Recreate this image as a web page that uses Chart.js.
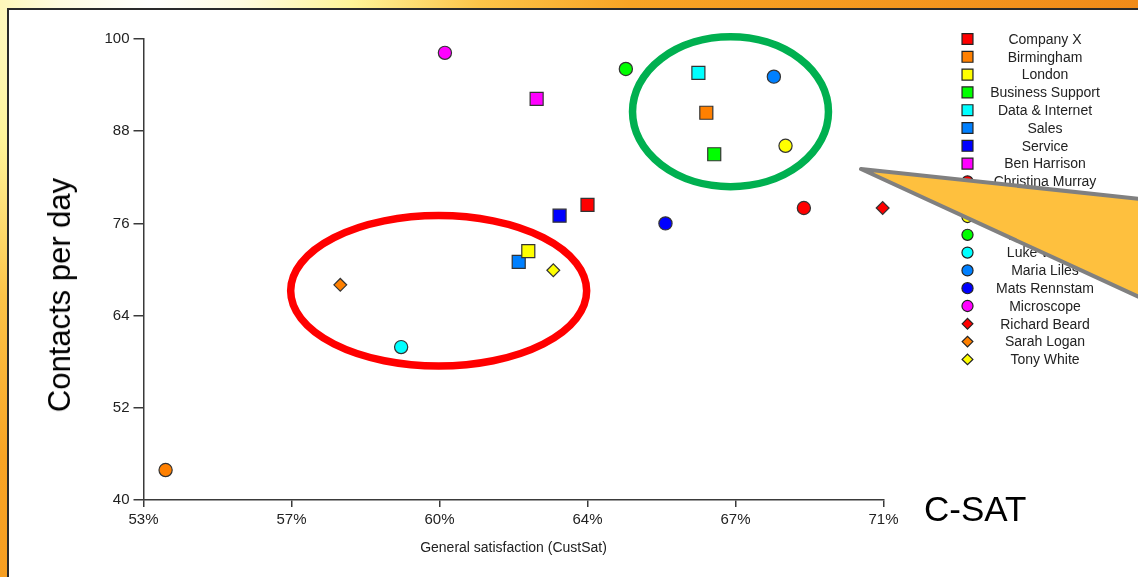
<!DOCTYPE html>
<html>
<head>
<meta charset="utf-8">
<script src="https://cdn.jsdelivr.net/npm/chart.js@4.4.1/dist/chart.umd.min.js"></script>
<style>
  html, body { margin: 0; padding: 0; }
  body {
    width: 1138px; height: 577px; overflow: hidden; position: relative;
    background: radial-gradient(circle at 150px 0px, #ffffff 0px, #fffbe0 90px, #fff59a 200px, #fcc448 330px, #f8a424 480px, #f08a18 1000px);
    font-family: "Liberation Sans", Arial, sans-serif;
  }
  #panel {
    position: absolute; left: 7px; top: 8px; width: 1160px; height: 600px;
    background: #fff; border-left: 2px solid #2a2a2a; border-top: 2px solid #2a2a2a;
  }
  #chart { position: absolute; left: 0; top: 0; }
  .big { position: absolute; color: #000; white-space: nowrap; }
  #ytitle { left: 60px; top: 295px; font-size: 31px; transform: translate(-50%, -50%) rotate(-90deg); }
  #csat { left: 924px; top: 489px; font-size: 35px; }
  #callout { position: absolute; left: 0; top: 0; }
</style>
</head>
<body>
<div id="panel"></div>
<canvas id="chart" width="1138" height="577"></canvas>
<div class="big" id="ytitle">Contacts per day</div>
<div class="big" id="csat">C-SAT</div>
<svg id="callout" width="1138" height="577">
  <polygon points="861,169 1150,200 1150,302" fill="#fec03e" stroke="#808080" stroke-width="4" stroke-linejoin="round"/>
</svg>
<script>
// one entry per legend row
const names = ["Company X", "Birmingham", "London", "Business Support", "Data & Internet", "Sales", "Service",
  "Ben Harrison", "Christina Murray", "David Evans", "Gary Hill", "Jenny Cook", "Luke Wilson", "Maria Liles",
  "Mats Rennstam", "Microscope", "Richard Beard", "Sarah Logan", "Tony White"];
// general satisfaction, %
const custSat = [63.65, 66.5, 62.23, 66.69, 66.31, 62.0, 62.98, 62.43, 68.84, 53.53, 68.4, 64.57,
  59.18, 68.12, 65.52, 60.23, 70.73, 57.72, 62.83];
// contacts per day
const contacts = [78.4, 90.4, 72.4, 85.0, 95.6, 71.0, 77.0, 92.2, 78.0, 43.9, 86.1, 96.1,
  59.9, 95.1, 76.0, 98.2, 78.0, 68.0, 69.9];
const colors = ["#ff0000", "#ff8000", "#ffff00", "#00ff00", "#00ffff", "#0080ff", "#0000ff",
  "#ff00ff", "#ff0000", "#ff8000", "#ffff00", "#00ff00", "#00ffff", "#0080ff",
  "#0000ff", "#ff00ff", "#ff0000", "#ff8000", "#ffff00"];
const shapes = ["rect", "rect", "rect", "rect", "rect", "rect", "rect", "rect",
  "circle", "circle", "circle", "circle", "circle", "circle", "circle", "circle",
  "rectRot", "rectRot", "rectRot"];
const xTicks = [53, 56.55, 60.1, 63.65, 67.2, 70.75];
const yTicks = [40, 52, 64, 76, 88, 100];

// highlight rings, in data units: [cx, cy, rx, ry, colour]
const rings = [
  [60.08, 67.23, 3.55, 9.79, "#ff0000"],
  [67.08, 90.54, 2.35, 9.76, "#00b050"]
];

const sizeOf = { rect: 9.2, circle: 6.6, rectRot: 6.4 };
const font = "'Liberation Sans', Arial, sans-serif";

const datasets = names.map((n, i) => ({
  label: n,
  data: [{ x: custSat[i], y: contacts[i] }],
  pointStyle: shapes[i],
  pointRadius: sizeOf[shapes[i]],
  backgroundColor: colors[i],
  borderColor: "#333",
  borderWidth: 1.2,
  clip: false
}));

const ringPlugin = {
  id: "rings",
  afterDatasetsDraw(chart) {
    const { ctx, scales: { x, y } } = chart;
    ctx.save();
    ctx.lineWidth = 7.5;
    rings.forEach(r => {
      const cx = x.getPixelForValue(r[0]), cy = y.getPixelForValue(r[1]);
      const rx = x.getPixelForValue(r[0] + r[2]) - cx;
      const ry = cy - y.getPixelForValue(r[1] + r[3]);
      ctx.strokeStyle = r[4];
      ctx.beginPath();
      ctx.ellipse(cx, cy, rx, ry, 0, 0, Math.PI * 2);
      ctx.stroke();
    });
    ctx.restore();
  }
};

// legend with centred names, like the original
const sideLegend = {
  id: "sideLegend",
  afterDraw(chart) {
    const ctx = chart.ctx;
    ctx.save();
    ctx.font = "14px " + font;
    ctx.textAlign = "center";
    ctx.textBaseline = "middle";
    chart.data.datasets.forEach((ds, i) => {
      const y = 39 + i * 17.8;
      ctx.fillStyle = ds.backgroundColor;
      ctx.strokeStyle = "#222";
      ctx.lineWidth = 1.2;
      Chart.helpers.drawPoint(ctx, { pointStyle: ds.pointStyle, rotation: 0, radius: ds.pointRadius * 0.84, borderWidth: 1.2 }, 967.5, y);
      ctx.fillStyle = "#222";
      ctx.fillText(ds.label, 1045, y + 1);
    });
    ctx.restore();
  }
};

new Chart(document.getElementById("chart"), {
  type: "scatter",
  data: { datasets },
  plugins: [ringPlugin, sideLegend],
  options: {
    responsive: false,
    animation: false,
    devicePixelRatio: 1,
    layout: { padding: { left: 0, top: 39, right: 254.5, bottom: 20.6 } },
    plugins: { legend: { display: false }, tooltip: { enabled: false } },
    scales: {
      x: {
        type: "linear",
        min: xTicks[0],
        max: xTicks[xTicks.length - 1],
        afterBuildTicks: s => { s.ticks = xTicks.map(v => ({ value: v })); },
        afterFit: s => { s.height = 56.4; },
        grid: { drawOnChartArea: false, drawTicks: true, tickLength: 7, color: "#3a3a3a", lineWidth: 1.5 },
        border: { color: "#3a3a3a", width: 1.5 },
        ticks: { padding: 4, color: "#222", font: { family: font, size: 15 }, callback: v => Math.round(v) + "%" },
        title: { display: true, text: "General satisfaction (CustSat)", color: "#222", padding: 0, font: { family: font, size: 14 } }
      },
      y: {
        type: "linear",
        min: yTicks[0],
        max: yTicks[yTicks.length - 1],
        afterBuildTicks: s => { s.ticks = yTicks.map(v => ({ value: v })); },
        afterFit: s => { s.width = 143.5; },
        grid: { drawOnChartArea: false, drawTicks: true, tickLength: 10, color: "#3a3a3a", lineWidth: 1.5 },
        border: { color: "#3a3a3a", width: 1.5 },
        ticks: { padding: 4, color: "#222", font: { family: font, size: 15 } }
      }
    }
  }
});
</script>
</body>
</html>
